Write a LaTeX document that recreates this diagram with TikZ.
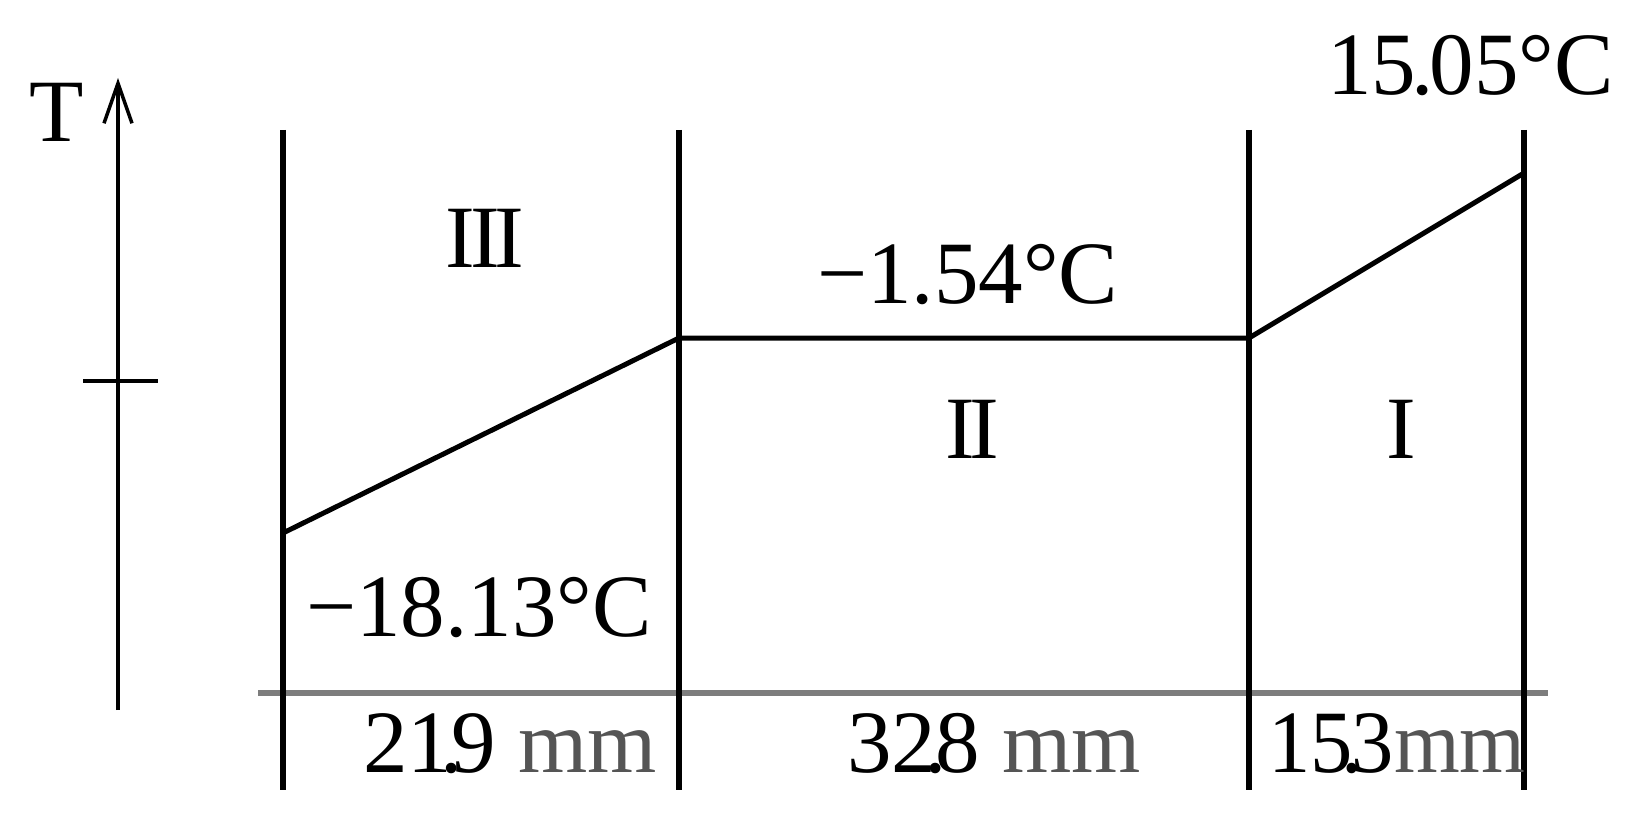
\documentclass[tikz,border=0pt]{standalone}
\usepackage{fontspec}
\setmainfont{Liberation Serif}
\usetikzlibrary{arrows.meta}
\definecolor{basegray}{RGB}{125,125,125}
\definecolor{mmgray}{RGB}{85,85,85}
\newcommand\kdot{\kern-0.13em.\kern-0.13em}
\begin{document}
\begin{tikzpicture}[x=1pt,y=-1pt,
  lbl/.style={inner sep=0pt, font=\fontsize{89}{100}\selectfont, anchor=base west},
  ctr/.style={inner sep=0pt, font=\fontsize{89}{100}\selectfont, anchor=base},
  heavy/.style={line width=5.5pt, black},
  prof/.style={line width=5pt, black, line join=miter},
  baseln/.style={line width=5.5pt, basegray},
  axisln/.style={line width=4.5pt, black},
  tickln/.style={line width=3.5pt, black}]
\useasboundingbox (0,0) rectangle (1630,818);
% coordinates
\coordinate (ax0) at (118,710);
\coordinate (ax1) at (118,78);
\coordinate (tk0) at (83,381);
\coordinate (tk1) at (158,381);
\coordinate (bl0) at (258,693);
\coordinate (bl1) at (1548,693);
\foreach \n/\x in {a/283,b/679,c/1249,d/1524}{
  \coordinate (\n top) at (\x,130);
  \coordinate (\n bot) at (\x,790);
}
\coordinate (p0) at (283,533);
\coordinate (p1) at (679,338);
\coordinate (p2) at (1249,338);
\coordinate (p3) at (1524,173);
% baseline
\draw[baseln] (bl0) -- (bl1);
% vertical boundaries
\foreach \n in {a,b,c,d}{ \draw[heavy] (\n top) -- (\n bot); }
% profile
\draw[prof] (p0) -- (p1) -- (p2) -- (p3);
% axis
\draw[axisln, -{Straight Barb[length=40pt,width=28pt,line width=3.5pt]}] (ax0) -- (ax1);
\draw[tickln] (tk0) -- (tk1);
% labels
\node[ctr] (T) at (57,142) {T};
\node[ctr] (z3) at (485,268) {I\kern-0.06em I\kern-0.06em I};
\node[ctr] (z2) at (972,458) {I\kern-0.06em I};
\node[ctr] (z1) at (1401,458) {I};
\node[lbl] (t1) at (817,303) {−1.54°C};
\node[lbl] (t3) at (306,636) {−18.13°C};
\node[lbl] (t0) at (1327,95) {15\kern-0.05em.\kern-0.05em05°C};
\node[lbl] (d3) at (363,772) {21\kdot9 \textcolor{mmgray}{mm}};
\node[lbl] (d2) at (847,772) {32\kdot8 \textcolor{mmgray}{mm}};
\node[lbl] (d1) at (1268,772) {\scalebox{0.95}[1]{15\kdot3\textcolor{mmgray}{mm}}};
\end{tikzpicture}
\end{document}
